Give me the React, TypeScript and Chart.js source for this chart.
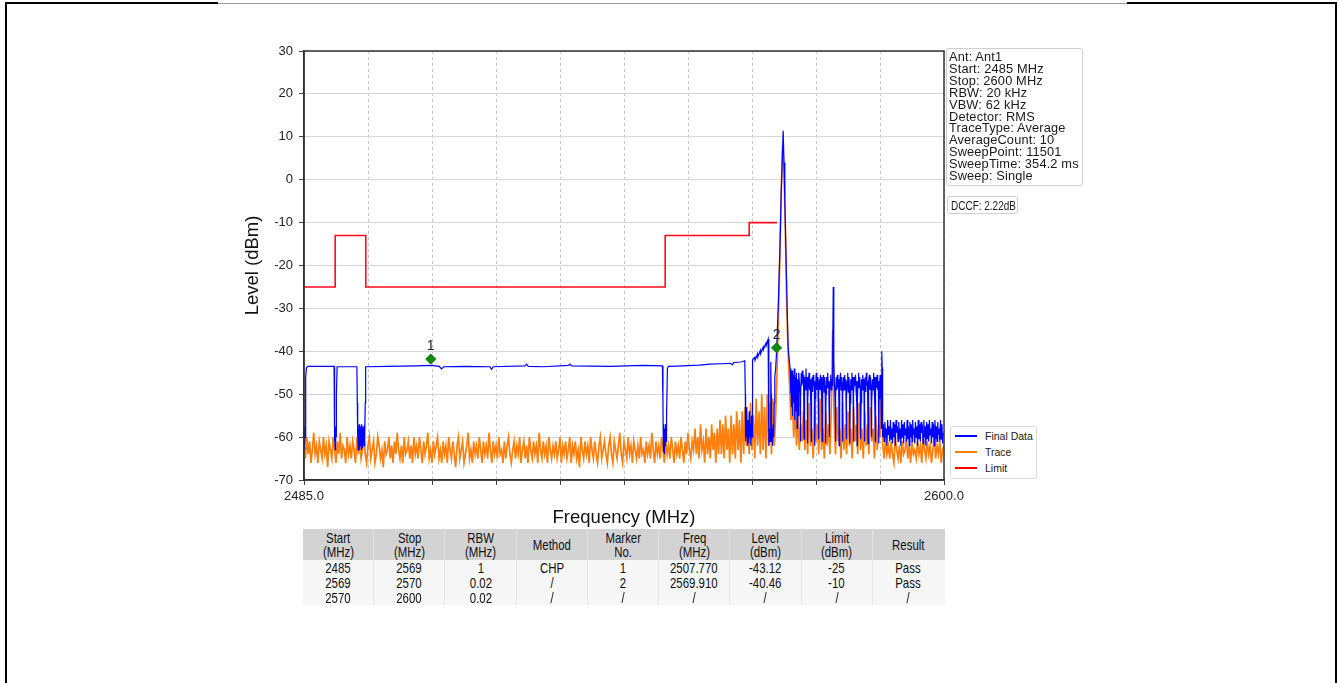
import React, { useEffect, useRef } from "react";
import { Chart, registerables } from "chart.js";

Chart.register(...registerables);

// ---------- axis ----------
const FREQ_START = 2485;
const FREQ_STOP = 2600;
const LEVEL_MIN = -70;
const LEVEL_MAX = 30;
const xTickValues = [2485, 2496.5, 2508, 2519.5, 2531, 2542.5, 2554, 2565.5, 2577, 2588.5, 2600];
const xTickLabels = ["2485.0", "", "", "", "", "", "", "", "", "", "2600.0"];
const yTickValues = [-70, -60, -50, -40, -30, -20, -10, 0, 10, 20, 30];

// ---------- Limit ----------
const limitLine: [number, number][] = [
  [2485, -25], [2490.6, -25], [2490.6, -13], [2496.1, -13], [2496.1, -25],
  [2549.9, -25], [2549.9, -13], [2565, -13], [2565, -10], [2570, -10],
];

// ---------- Markers ----------
const markerNo = [1, 2];
const markerFreq = [2507.77, 2569.91];
const markerLevel = [-41.8, -39.2];

// ---------- Trace (orange), one value per 0.25 MHz from 2485 ----------
const TRACE_STEP = 0.25;
const traceLevel = [
  -62,-65,-60,-64,-61,-66,-63,-59,-64,-62,-66,-61,-63,-65,-60,-64,-62,-67,-61,-63,
  -65,-60,-63,-66,-61,-64,-59,-65,-62,-63,-66,-60,-64,-62,-65,-61,-63,-66,-60,-64,
  -61,-65,-63,-59,-64,-66,-62,-60,-65,-63,-61,-66,-64,-60,-62,-65,-63,-67,-61,-64,
  -63,-60,-65,-62,-66,-61,-64,-59,-63,-65,-62,-66,-60,-64,-63,-61,-65,-62,-66,-60,
  -64,-62,-65,-60,-63,-66,-61,-64,-62,-59,-65,-63,-66,-61,-64,-62,-60,-65,-63,-66,
  -61,-64,-62,-66,-60,-63,-65,-61,-64,-67,-62,-60,-65,-63,-61,-66,-64,-62,-59,-65,
  -63,-66,-61,-64,-62,-65,-60,-63,-66,-61,-64,-62,-65,-59,-63,-66,-61,-64,-62,-65,
  -60,-64,-63,-66,-61,-65,-62,-60,-64,-66,-63,-61,-65,-62,-64,-60,-66,-63,-61,-65,
  -62,-66,-60,-63,-65,-61,-64,-62,-66,-59,-63,-65,-61,-64,-62,-66,-60,-63,-65,-62,
  -64,-61,-65,-63,-60,-66,-62,-64,-61,-65,-63,-60,-66,-62,-64,-61,-65,-63,-67,-60,
  -63,-65,-61,-64,-62,-66,-60,-63,-65,-61,-64,-66,-62,-60,-65,-63,-61,-64,-66,-62,
  -60,-64,-66,-61,-63,-65,-62,-59,-64,-66,-61,-63,-65,-60,-64,-62,-66,-61,-63,-65,
  -62,-65,-60,-64,-63,-66,-61,-64,-62,-65,-59,-63,-66,-61,-64,-62,-65,-60,-63,-66,
  -61,-64,-62,-65,-60,-63,-66,-61,-64,-62,-65,-60,-63,-66,-61,-64,-59,-63,-65,-61,
  -63,-58,-64,-60,-65,-57,-63,-61,-66,-58,-64,-60,-65,-57,-63,-59,-66,-58,-64,-56,
  -64,-57,-65,-55,-63,-58,-66,-55,-64,-57,-65,-54,-63,-56,-66,-54,-64,-53,-62,-57,
  -64,-52,-63,-55,-65,-51,-62,-54,-64,-50,-63,-53,-65,-50,-62,-52,-64,-51,-62,-55,
  -45,-32,-18,-3,8,3,-12,-30,-41,-48,-56,-52,-60,-53,-62,-55,-63,-57,-61,-54,
  -63,-56,-64,-52,-62,-58,-65,-53,-61,-57,-64,-51,-63,-58,-65,-54,-62,-57,-64,-53,
  -35,-55,-64,-53,-61,-58,-65,-52,-63,-57,-64,-54,-62,-58,-65,-53,-61,-57,-64,-52,
  -63,-58,-65,-54,-62,-57,-64,-53,-61,-58,-65,-55,-63,-57,-60,-48,-62,-65,-60,-64,
  -62,-65,-61,-64,-66,-60,-63,-65,-62,-66,-61,-64,-63,-60,-65,-62,-66,-61,-64,-63,
  -65,-61,-64,-62,-66,-60,-63,-65,-61,-64,-62,-66,-63,-60,-65,-62,-64,-61,-66,-63,
  -62,
];

// ---------- Final Data (blue), [MHz, dBm] up to 2589 MHz ----------
const finalData: [number, number][] = [
  [2485.0,-59],[2485.05,-63],[2485.1,-57.5],[2485.15,-62],[2485.2,-60],[2485.3,-46],[2485.45,-43.8],[2485.7,-43.5],
  [2490.4,-43.5],[2490.45,-52],[2490.5,-61],[2490.55,-57],[2490.6,-63],[2490.65,-58],[2490.7,-62],[2490.75,-57.5],[2490.8,-60],[2490.85,-50],[2490.95,-43.6],
  [2494.5,-43.6],[2494.58,-52],[2494.62,-60],[2494.68,-57],[2494.74,-63],[2494.8,-58],[2494.86,-62],[2494.92,-57],[2494.98,-63],[2495.04,-58.5],[2495.1,-62],
  [2495.16,-57.5],[2495.22,-61.5],[2495.28,-58],[2495.34,-63],[2495.4,-57],[2495.46,-61],[2495.52,-58],[2495.58,-62.5],[2495.64,-57.5],[2495.7,-61],
  [2495.76,-58],[2495.82,-62],[2495.88,-57],[2495.94,-60],[2496.0,-52],[2496.08,-43.6],
  [2500,-43.5],[2505,-43.4],[2507.8,-43.3],[2509.3,-43.5],[2509.7,-44.1],[2510.1,-43.6],[2514,-43.5],[2518.4,-43.6],[2518.7,-44.2],[2519.0,-43.6],
  [2524.7,-43.4],[2525.0,-43.0],[2525.3,-43.5],[2528,-43.6],[2532.5,-43.3],[2532.8,-43.0],[2533.1,-43.4],[2540,-43.5],[2546,-43.3],[2549.4,-43.4],
  [2549.5,-52],[2549.55,-60],[2549.6,-57],[2549.65,-63.5],[2549.7,-58],[2549.75,-64],[2549.8,-59],[2549.9,-62],[2549.95,-57],[2550.05,-61],[2550.15,-55],[2550.3,-44],[2550.5,-43.5],
  [2553,-43.4],[2556,-43.2],[2558,-43.0],[2560,-42.9],[2561.5,-42.8],[2562.0,-43.1],[2562.2,-42.6],[2563.5,-42.5],[2564.2,-42.2],
  [2564.3,-50],[2564.35,-61],[2564.45,-55],[2564.5,-60],[2564.6,-53],[2564.7,-62],[2564.8,-56],[2564.9,-61.5],[2565.0,-54],[2565.1,-60],
  [2565.2,-57],[2565.3,-62],[2565.4,-55],[2565.5,-60],[2565.6,-42],
  [2566.0,-41.4],[2566.05,-42.1],[2566.5,-40.6],[2566.55,-41.3],[2567.0,-39.8],[2567.05,-40.5],[2567.5,-39.0],[2567.55,-39.6],[2568.0,-38.1],[2568.05,-38.7],[2568.4,-37.2],
  [2568.5,-50],[2568.55,-62],[2568.65,-58],[2568.75,-61],[2568.85,-52],[2568.9,-42.5],[2568.95,-50],[2569.0,-61],[2569.1,-58],[2569.2,-62],
  [2569.3,-57],[2569.4,-60],[2569.5,-52],[2569.6,-46],[2569.75,-44],[2569.9,-40.5],
  [2570.2,-30],[2570.5,-17],[2570.75,-3],[2570.95,5],[2571.1,11.4],[2571.25,4],[2571.4,-5],[2571.6,-17],[2571.8,-29],[2572.0,-39],[2572.2,-42],[2572.35,-44],
  [2572.45,-50],[2572.5,-45],[2572.6,-53],[2572.7,-44.5],[2572.8,-55],[2572.9,-45.5],[2573.0,-52],[2573.1,-44],[2573.2,-56],[2573.3,-46],
  [2573.4,-54],[2573.5,-45],[2573.6,-58],[2573.7,-46.5],[2573.8,-55],[2573.9,-45],
  [2574.15,-50],[2574.2,-61],[2574.25,-51],[2574.35,-45],[2574.45,-48],[2574.55,-44.5],[2574.65,-47.5],[2574.75,-45.5],
  [2574.8,-52],[2574.85,-60.5],[2574.9,-50],[2575.0,-46],[2575.1,-49],[2575.2,-44],[2575.3,-48],[2575.4,-46],
  [2575.45,-51],[2575.5,-61.5],[2575.55,-52],[2575.65,-47],[2575.75,-45],[2575.85,-49],[2575.95,-46.5],[2576.05,-48],
  [2576.1,-53],[2576.15,-61],[2576.2,-50],[2576.3,-46],[2576.4,-49.5],[2576.5,-45.5],[2576.6,-48],[2576.7,-47],
  [2576.75,-52],[2576.8,-62],[2576.85,-51],[2576.95,-47.5],[2577.05,-45],[2577.15,-49],[2577.25,-46],[2577.35,-48.5],
  [2577.4,-53],[2577.45,-60.5],[2577.5,-50],[2577.6,-46.5],[2577.7,-49],[2577.8,-45.5],[2577.9,-48],[2578.0,-46],
  [2578.05,-51],[2578.1,-61],[2578.15,-52],[2578.25,-47],[2578.35,-45.5],[2578.45,-49.5],[2578.55,-46],[2578.65,-48],
  [2578.7,-52],[2578.75,-61.5],[2578.8,-50],[2578.9,-46],[2579.0,-48.5],[2579.1,-45],[2579.2,-48],[2579.3,-47],
  [2579.35,-53],[2579.4,-60],[2579.45,-51],[2579.55,-47],[2579.65,-45.5],[2579.75,-49],[2579.85,-46.5],[2579.95,-48],
  [2580.0,-40],[2580.1,-25],[2580.2,-42],[2580.3,-47],
  [2580.45,-52],[2580.5,-61],[2580.55,-50],[2580.65,-46],[2580.75,-49],[2580.85,-45.5],[2580.95,-48.5],[2581.05,-46.5],
  [2581.1,-51],[2581.15,-62],[2581.2,-52],[2581.3,-47.5],[2581.4,-45],[2581.5,-49],[2581.6,-46],[2581.7,-48],
  [2581.75,-53],[2581.8,-61],[2581.85,-50],[2581.95,-46],[2582.05,-49],[2582.15,-45.5],[2582.25,-48],[2582.35,-46.5],
  [2582.4,-52],[2582.45,-60.5],[2582.5,-51],[2582.6,-47],[2582.7,-45],[2582.8,-49.5],[2582.9,-46],[2583.0,-48],
  [2583.05,-51],[2583.1,-61.5],[2583.15,-52],[2583.25,-46.5],[2583.35,-49],[2583.45,-45],[2583.55,-48.5],[2583.65,-46],
  [2583.7,-53],[2583.75,-61],[2583.8,-50],[2583.9,-46],[2584.0,-48],[2584.1,-45.5],[2584.2,-49],[2584.3,-47],
  [2584.35,-52],[2584.4,-62],[2584.45,-51],[2584.55,-47],[2584.65,-45],[2584.75,-48.5],[2584.85,-46],[2584.95,-48],
  [2585.0,-51],[2585.05,-60.5],[2585.1,-52],[2585.2,-46.5],[2585.3,-49],[2585.4,-45.5],[2585.5,-48],[2585.6,-46.5],
  [2585.65,-53],[2585.7,-61],[2585.75,-50],[2585.85,-46],[2585.95,-49.5],[2586.05,-45],[2586.15,-48],[2586.25,-47],
  [2586.3,-52],[2586.35,-61.5],[2586.4,-51],[2586.5,-47],[2586.6,-45.5],[2586.7,-49],[2586.8,-46],[2586.9,-48.5],
  [2586.95,-51],[2587.0,-60],[2587.05,-52],[2587.15,-46.5],[2587.25,-49],[2587.35,-45],[2587.45,-48],[2587.55,-46],
  [2587.6,-53],[2587.65,-61],[2587.7,-50],[2587.8,-46],[2587.9,-48.5],[2588.0,-45.5],[2588.1,-49],[2588.2,-47],
  [2588.25,-52],[2588.3,-61.5],[2588.35,-51],[2588.45,-47],[2588.55,-45.5],[2588.65,-48],
  [2588.75,-58],[2588.8,-50],[2588.85,-40],[2588.9,-44],[2588.95,-56],[2589.0,-60],
];

// ---------- Final Data (blue) tail, one value per 0.125 MHz from 2589.125 ----------
const TAIL_START = 2589.125;
const TAIL_STEP = 0.125;
const finalTailLevel = [
  -57,-61,-56.5,-60,-58,-62,-56,-59.5,-57.5,-61,-56,-60.5,-58,-61.5,-56.5,-60,-57,-62,-56,-59,
  -57.5,-61,-56.5,-60.5,-58,-62,-56,-60,-57,-61.5,-56.5,-59.5,-58,-61,-56,-60.5,-57.5,-62,-56.5,-60,
  -57,-61,-56,-59.5,-58,-61.5,-56.5,-60,-57.5,-62,-56,-60.5,-57,-61,-56.5,-59,-58,-61.5,-56,-60,
  -57.5,-62,-56.5,-60.5,-57,-61,-56,-59.5,-58,-61.5,-56.5,-60,-57,-62,-56,-60.5,-57.5,-61,-56.5,-59.5,
  -58,-61,-56,-60.5,-57,-61.5,-59,
];

// ---------- text blocks ----------
const infoLines = [
  "Ant: Ant1", "Start: 2485 MHz", "Stop: 2600 MHz", "RBW: 20 kHz", "VBW: 62 kHz", "Detector: RMS",
  "TraceType: Average", "AverageCount: 10", "SweepPoint: 11501", "SweepTime: 354.2 ms", "Sweep: Single",
];
const dccfText = "DCCF: 2.22dB";
const legendLabels = ["Final Data", "Trace", "Limit"];
const legendColors = ["#0000ff", "#ff7f0e", "#ff0000"];
const tableHeader = [
  ["Start", "(MHz)"], ["Stop", "(MHz)"], ["RBW", "(MHz)"], ["Method"], ["Marker", "No."],
  ["Freq", "(MHz)"], ["Level", "(dBm)"], ["Limit", "(dBm)"], ["Result"],
];
const tableRows = [
  ["2485", "2569", "1", "CHP", "1", "2507.770", "-43.12", "-25", "Pass"],
  ["2569", "2570", "0.02", "/", "2", "2569.910", "-40.46", "-10", "Pass"],
  ["2570", "2600", "0.02", "/", "/", "/", "/", "/", "/"],
];

const SANS = "'Liberation Sans', Arial, Helvetica, sans-serif";

function Narrow({ text, size }: { text: string; size: number }) {
  return (
    <span style={{ display: "inline-block", fontSize: size, transform: "scaleX(0.8)", transformOrigin: "center", whiteSpace: "nowrap" }}>{text}</span>
  );
}

export default function App() {
  const canvasRef = useRef<HTMLCanvasElement | null>(null);

  useEffect(() => {
    const canvas = canvasRef.current;
    if (!canvas) return;

    const framePlugin = {
      id: "frameAndLabels",
      afterDatasetsDraw(chart: any) {
        const { ctx, chartArea: a } = chart;
        const xs = chart.scales.x;
        const ys = chart.scales.y;
        ctx.save();
        ctx.fillStyle = "#222";
        ctx.font = `14px ${SANS}`;
        ctx.textAlign = "center";
        ctx.textBaseline = "middle";
        markerNo.forEach((n, i) => {
          ctx.fillText(String(n), xs.getPixelForValue(markerFreq[i]), ys.getPixelForValue(markerLevel[i]) - 13);
        });
        ctx.strokeStyle = "#333";
        ctx.lineWidth = 1.5;
        ctx.strokeRect(a.left, a.top, a.right - a.left, a.bottom - a.top);
        ctx.restore();
      },
    };

    const blue = [
      ...finalData.map(([x, y]) => ({ x, y })),
      ...finalTailLevel.map((y, i) => ({ x: TAIL_START + i * TAIL_STEP, y })),
    ];

    const chart = new Chart(canvas, {
      type: "scatter",
      data: {
        datasets: [
          {
            label: "Markers",
            data: markerFreq.map((f, i) => ({ x: f, y: markerLevel[i] })),
            showLine: false,
            pointStyle: "rectRot",
            pointRadius: 5,
            backgroundColor: "#0b8a0b",
            borderColor: "#0b700b",
            borderWidth: 1,
          },
          {
            label: "Limit",
            data: limitLine.map(([x, y]) => ({ x, y })),
            showLine: true,
            borderColor: "#ff0a1e",
            borderWidth: 1.6,
            pointRadius: 0,
          },
          {
            label: "Final Data",
            data: blue,
            showLine: true,
            borderColor: "#0000ff",
            borderWidth: 1.2,
            pointRadius: 0,
          },
          {
            label: "Trace",
            data: traceLevel.map((y, i) => ({ x: FREQ_START + i * TRACE_STEP, y })),
            showLine: true,
            borderColor: "#ff7f0e",
            borderWidth: 1.7,
            pointRadius: 0,
          },
        ] as any,
      },
      options: {
        responsive: false,
        animation: false,
        events: [],
        layout: { padding: { left: 240, right: 394, top: 51, bottom: 152 } },
        plugins: { legend: { display: false }, tooltip: { enabled: false } },
        scales: {
          x: {
            type: "linear",
            min: FREQ_START,
            max: FREQ_STOP,
            afterBuildTicks: (s: any) => {
              s.ticks = xTickValues.map((v) => ({ value: v }));
            },
            afterFit: (s: any) => {
              s.height = 51;
            },
            ticks: {
              autoSkip: false,
              maxRotation: 0,
              padding: 4,
              color: "#222",
              font: { family: SANS, size: 13 },
              callback: (v: any) => {
                const i = xTickValues.indexOf(Number(v));
                return i >= 0 ? xTickLabels[i] : "";
              },
            },
            grid: { color: "#b8b8b8", lineWidth: 0.8, tickLength: 5, tickColor: "#444", tickWidth: 1 },
            border: { display: true, color: "#333", width: 1.5, dash: [3, 3] },
            title: {
              display: true,
              text: "Frequency (MHz)",
              color: "#111",
              font: { family: SANS, size: 18.5 },
              padding: { top: 2, bottom: 2 },
            },
          },
          y: {
            type: "linear",
            min: LEVEL_MIN,
            max: LEVEL_MAX,
            afterBuildTicks: (s: any) => {
              s.ticks = yTickValues.map((v) => ({ value: v }));
            },
            afterFit: (s: any) => {
              s.width = 64;
            },
            ticks: {
              padding: 6,
              color: "#222",
              font: { family: SANS, size: 13 },
              callback: (v: any) => String(v),
            },
            grid: { color: "#d6d6d6", lineWidth: 1, tickLength: 5, tickColor: "#444", tickWidth: 1 },
            border: { display: true, color: "#333", width: 1.5 },
            title: {
              display: true,
              text: "Level (dBm)",
              color: "#111",
              font: { family: SANS, size: 18.5 },
              padding: { top: 2, bottom: 2 },
            },
          },
        },
      } as any,
      plugins: [framePlugin],
    });
    return () => chart.destroy();
  }, []);

  const colW = 641 / 9;

  return (
    <div style={{ position: "absolute", left: 0, top: 0, width: 1338, height: 683, overflow: "hidden", background: "#fff", fontFamily: SANS }}>
      {/* page frame */}
      <div style={{ position: "absolute", left: 5, top: 2, width: 2, height: 681, background: "#000" }} />
      <div style={{ position: "absolute", left: 5, top: 2, width: 213, height: 2, background: "#000" }} />
      <div style={{ position: "absolute", left: 218, top: 3, width: 909, height: 1, background: "#9a9a9a" }} />
      <div style={{ position: "absolute", left: 1127, top: 2, width: 210, height: 2, background: "#000" }} />
      <div style={{ position: "absolute", left: 1335, top: 2, width: 2, height: 681, background: "#000" }} />

      <canvas ref={canvasRef} width={1338} height={683} style={{ position: "absolute", left: 0, top: 0, width: 1338, height: 683 }} />

      {/* info box */}
      <div style={{ position: "absolute", left: 946, top: 48, width: 137, height: 138, border: "1px solid #cfcfcf", borderRadius: 3, background: "#fff", boxSizing: "border-box", padding: "2px 0 0 2px" }}>
        {infoLines.map((t) => (
          <div key={t} style={{ fontSize: 12.8, lineHeight: "11.9px", color: "#1a1a1a", whiteSpace: "nowrap", letterSpacing: 0.15 }}>{t}</div>
        ))}
      </div>
      <div style={{ position: "absolute", left: 947, top: 196, width: 71, height: 18, border: "1px solid #cfcfcf", borderRadius: 3, background: "#fff", boxSizing: "border-box", lineHeight: "16px", color: "#1a1a1a", whiteSpace: "nowrap", overflow: "hidden" }}>
        <span style={{ display: "inline-block", fontSize: 12.8, transform: "scaleX(0.78)", transformOrigin: "left center", marginLeft: 3 }}>{dccfText}</span>
      </div>

      {/* legend */}
      <div style={{ position: "absolute", left: 950, top: 426, width: 87, height: 53, border: "1px solid #dadada", borderRadius: 3, background: "#fff", boxSizing: "border-box" }}>
        {legendLabels.map((t, i) => (
          <div key={t} style={{ position: "absolute", left: 4, top: 2 + i * 16, height: 14, display: "flex", alignItems: "center" }}>
            <div style={{ width: 22, height: 2, background: legendColors[i] }} />
            <div style={{ marginLeft: 8, fontSize: 10.5, color: "#1a1a1a", whiteSpace: "nowrap" }}>{t}</div>
          </div>
        ))}
      </div>

      {/* table */}
      <div style={{ position: "absolute", left: 303, top: 529, width: 642, color: "#111" }}>
        <div style={{ display: "flex", height: 31, background: "#d3d3d3" }}>
          {tableHeader.map((h, i) => (
            <div key={i} style={{ width: colW, boxSizing: "border-box", borderRight: i < 8 ? "1px solid #e2e2e2" : "none", display: "flex", flexDirection: "column", alignItems: "center", justifyContent: "center", lineHeight: "14px" }}>
              {h.map((l) => <Narrow key={l} text={l} size={14.3} />)}
            </div>
          ))}
        </div>
        {tableRows.map((r, ri) => (
          <div key={ri} style={{ display: "flex", height: 15, background: "#f6f6f6" }}>
            {r.map((c, ci) => (
              <div key={ci} style={{ width: colW, boxSizing: "border-box", borderRight: ci < 8 ? "1px solid #e6e6e6" : "none", textAlign: "center", lineHeight: "15px" }}>
                <Narrow text={c} size={14.3} />
              </div>
            ))}
          </div>
        ))}
      </div>
    </div>
  );
}
